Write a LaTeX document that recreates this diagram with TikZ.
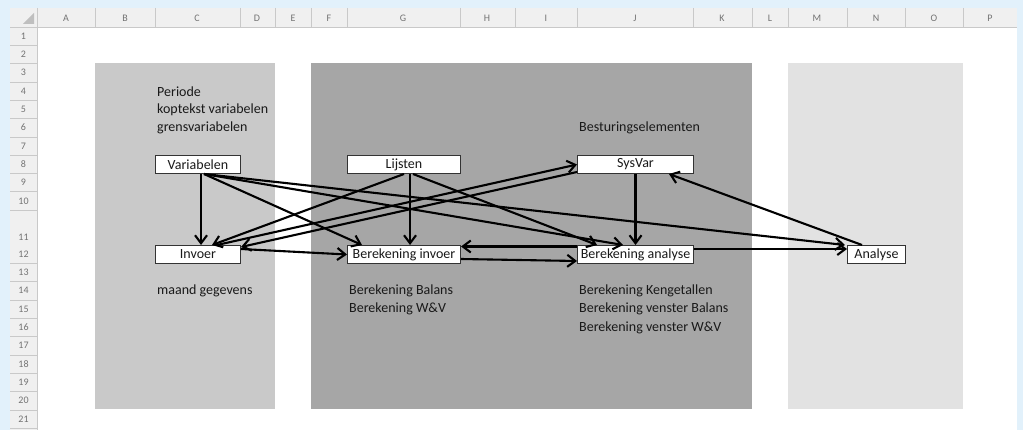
\documentclass[tikz,border=0pt]{standalone}
\usepackage{fontspec}
\setmainfont{Carlito}
\usetikzlibrary{arrows.meta}
\definecolor{frameblue}{HTML}{E2F1FB}
\definecolor{headgray}{HTML}{F0F0F0}
\definecolor{linegray}{HTML}{C9C9C9}
\definecolor{lightpanel}{HTML}{C9C9C9}
\definecolor{darkpanel}{HTML}{A6A6A6}
\definecolor{palepanel}{HTML}{E2E2E2}

\begin{document}
\begin{tikzpicture}[x=1pt,y=-1pt,
  box/.style={draw=black!80,line width=1pt,fill=white,inner sep=0pt,minimum height=18pt,anchor=north west,font=\fontsize{14}{14}\selectfont,text=black!90},
  txt/.style={anchor=west,inner sep=0pt,font=\fontsize{14}{14}\selectfont,text=black!90},
  hdr/.style={inner sep=0pt,font=\fontsize{10}{10}\selectfont,text=black!55},
  link/.style={line width=2.1pt,-{Straight Barb[length=8pt,width=12pt]}}]
\useasboundingbox (0,0) rectangle (1023,430);
\fill[frameblue] (0,0) rectangle (1023,430);
\fill[white] (10,8) rectangle (1017,430);
% sheet headers
\fill[headgray] (10,8) rectangle (1017,27);
\fill[headgray] (10,27) rectangle (37,430);
\fill[black!25] (34,24) -- (34,13) -- (23,24) -- cycle;
\draw[linegray] (10,27) -- (1017,27);
\draw[linegray] (37,8) -- (37,430);
\foreach \x in {95,155,240,275,311,347,460,515,577,693,752,788,847,905,963}
  \draw[linegray] (\x,8) -- (\x,27);
\foreach \c/\x in {A/66,B/125,C/197,D/257,E/293,F/329,G/403,H/487,I/546,J/635,K/722,L/770,M/817,N/876,O/934,P/990}
  \node[hdr] (col\c) at (\x,18) {\c};
\foreach \r in {1,...,10} {
  \node[hdr] (row\r) at (23.5,{27+(\r-0.5)*18.3}) {\r};
  \draw[linegray] (10,{27+\r*18.3}) -- (37,{27+\r*18.3});
}
\node[hdr] (row11) at (23.5,237) {11};
\foreach \r in {12,...,21} {
  \node[hdr] (row\r) at (23.5,{245+(\r-11.5)*18.3}) {\r};
  \draw[linegray] (10,{245+(\r-11)*18.3}) -- (37,{245+(\r-11)*18.3});
}
% panels
\fill[lightpanel] (95,63) rectangle (275,409);
\fill[darkpanel] (311,63) rectangle (752,409);
\fill[palepanel] (788,63) rectangle (963,409);
% texts
\node[txt] (periode) at (157,91.5) {Periode};
\node[txt] (koptekst) at (157,109.8) {koptekst variabelen};
\node[txt] (grens) at (157,128.1) {grensvariabelen};
\node[txt] (besturing) at (579,128.1) {Besturingselementen};
\node[txt] (maand) at (157,291) {maand gegevens};
\node[txt] (balans) at (349,291) {Berekening Balans};
\node[txt] (wenv) at (349,309.3) {Berekening W\&V};
\node[txt] (kengetallen) at (579,291) {Berekening Kengetallen};
\node[txt] (vbalans) at (579,309.3) {Berekening venster Balans};
\node[txt] (vwenv) at (579,327.6) {Berekening venster W\&V};
% boxes
\node[box,minimum width=85pt] (variabelen) at (155,155) {Variabelen};
\node[box,minimum width=85pt] (invoer) at (155,245) {Invoer};
\node[box,minimum width=113pt] (lijsten) at (347,155) {Lijsten};
\node[box,minimum width=113pt] (berinvoer) at (347,245) {Berekening invoer};
\node[box,minimum width=116pt] (sysvar) at (577,155) {SysVar};
\node[box,minimum width=116pt] (beranalyse) at (577,245) {Berekening analyse};
\node[box,minimum width=58pt] (analyse) at (847,245) {Analyse};
% arrows
\draw[link] ([xshift=3pt]variabelen.south) -- ([xshift=3pt]invoer.north);
\draw[link] ([xshift=6pt]variabelen.south) -- ([xshift=15pt]berinvoer.north west);
\draw[link] ([xshift=6pt]variabelen.south) -- ([xshift=46pt]beranalyse.north west);
\draw[link] ([xshift=6pt]variabelen.south) -- ([xshift=-2pt]analyse.north west);
\draw[link] (lijsten.south) -- ([xshift=14pt]invoer.north);
\draw[link] ([xshift=6pt]lijsten.south) -- ([xshift=6pt]berinvoer.north);
\draw[link] ([xshift=9pt]lijsten.south) -- ([xshift=20pt]beranalyse.north west);
\draw[link] ([yshift=2pt]sysvar.south west) -- ([yshift=-2pt]invoer.north east);
\draw[link] ([xshift=19pt]invoer.north) -- (sysvar.west);
\draw[link] (sysvar.south) -- (beranalyse.north);
\draw[link] ([xshift=15pt]analyse.north west) -- ([xshift=-25pt]sysvar.south east);
\draw[link] ([yshift=-4pt]invoer.north east) -- (berinvoer.west);
\draw[link] ([yshift=-1.5pt]beranalyse.north west) -- ([yshift=-1.5pt]berinvoer.north east);
\draw[link] ([yshift=5pt]berinvoer.south east) -- ([yshift=3pt]beranalyse.south west);
\draw[link] ([yshift=-4pt]beranalyse.north east) -- ([yshift=-4pt]analyse.north west);
\end{tikzpicture}
\end{document}
